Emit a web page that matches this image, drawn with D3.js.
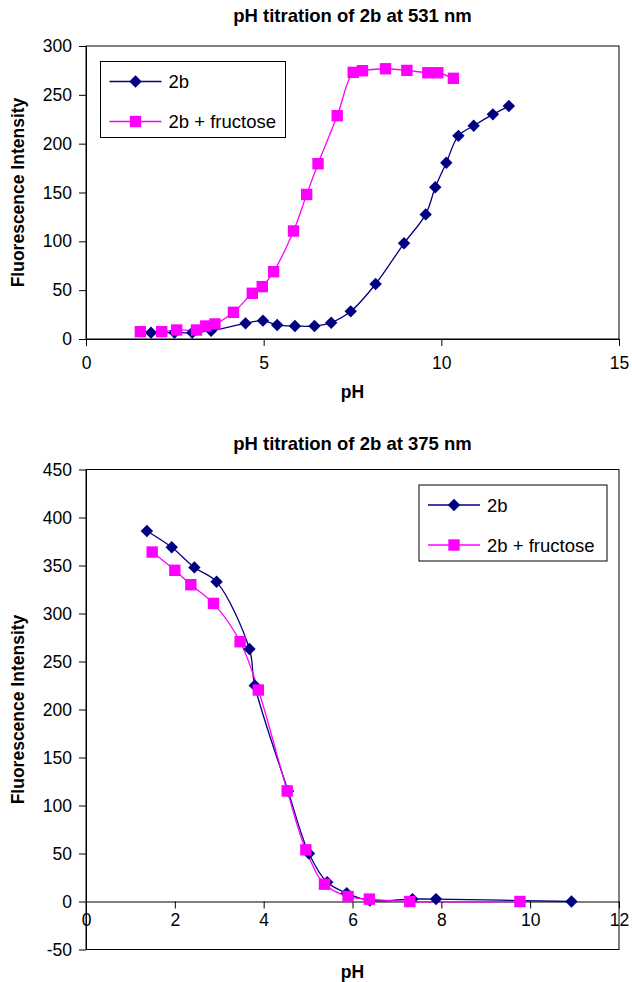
<!DOCTYPE html>
<html>
<head>
<meta charset="utf-8">
<script src="https://cdn.jsdelivr.net/npm/d3@7"></script>
<style>
  body { margin: 0; background: #fff; }
  svg { display: block; font-family: "Liberation Sans", Arial, sans-serif; }
</style>
</head>
<body>
<script>
// --- data ---
// top chart: 531 nm
const ph531Plain = [1.83, 2.49, 2.99, 3.52, 4.49, 4.98, 5.38, 5.88, 6.43, 6.9, 7.45, 8.15, 8.95, 9.56, 9.83, 10.14, 10.48, 10.91, 11.45, 11.9];
const fl531Plain = [6.5, 6.5, 6.5, 8.5, 16, 18.8, 14.3, 13.3, 13.3, 16.7, 28.3, 56.3, 98, 127.6, 155.3, 180.5, 208, 218.4, 230, 238.5];
const ph531Fruc = [1.53, 2.13, 2.55, 3.11, 3.37, 3.63, 4.15, 4.68, 4.96, 5.28, 5.84, 6.21, 6.53, 7.07, 7.52, 7.78, 8.43, 9.03, 9.62, 9.9, 10.34];
const fl531Fruc = [7.5, 7.5, 9.2, 9.2, 13.3, 15.4, 27.3, 46.8, 53.6, 68.9, 110.6, 148, 179.5, 228.6, 273, 274.7, 276.7, 275, 272.6, 272.6, 266.9];

// bottom chart: 375 nm
const ph375Plain = [1.37, 1.93, 2.44, 2.94, 3.68, 3.8, 4.55, 5.02, 5.43, 5.87, 6.39, 7.35, 7.88, 10.93];
const fl375Plain = [386, 369, 348, 333, 263, 225, 115, 50, 20, 8.7, 1, 2.5, 2.5, 0];
const ph375Fruc = [1.49, 2.0, 2.36, 2.87, 3.47, 3.88, 4.53, 4.95, 5.37, 5.9, 6.38, 7.29, 9.77];
const fl375Fruc = [364, 345, 330, 310.5, 270.6, 220.3, 115.2, 53.8, 18, 5.2, 2.5, 0, 0];

const seriesNames = ['2b', '2b + fructose'];

const xTicks531 = [0, 5, 10, 15];
const yTicks531 = [0, 50, 100, 150, 200, 250, 300];
const xTicks375 = [0, 2, 4, 6, 8, 10, 12];
const yTicks375 = [-50, 0, 50, 100, 150, 200, 250, 300, 350, 400, 450];

const navy = '#000080';
const magenta = '#ff00ff';

const svg = d3.select('body')
  .append('svg')
  .attr('width', 632)
  .attr('height', 982);

const zip = (xs, ys) => xs.map((v, i) => [v, ys[i]]);

function drawChart(opt) {
  const x = d3.scaleLinear().domain(opt.xDomain).range([opt.left, opt.right]);
  const y = d3.scaleLinear().domain(opt.yDomain).range([opt.bottom, opt.top]);

  const g = svg.append('g');

  // plot frame
  g.append('rect')
    .attr('x', opt.left)
    .attr('y', opt.top)
    .attr('width', opt.right - opt.left)
    .attr('height', opt.bottom - opt.top)
    .attr('fill', '#fff')
    .attr('stroke', '#000')
    .attr('stroke-width', 1);

  // plain hyphen for negatives, like Excel
  const fmt = d => String(d);

  const yAxis = g.append('g')
    .attr('transform', `translate(${opt.left}, 0)`)
    .call(d3.axisLeft(y).tickValues(opt.yTicks).tickFormat(fmt).tickSize(7).tickSizeOuter(0).tickPadding(7));

  const xAxis = g.append('g')
    .attr('transform', `translate(0, ${y(0)})`)
    .call(d3.axisBottom(x).tickValues(opt.xTicks).tickFormat(fmt).tickSize(7).tickSizeOuter(0).tickPadding(opt.xPad));

  [xAxis, yAxis].forEach((a) => {
    a.selectAll('text').attr('font-size', 17.5).attr('fill', '#000');
    a.selectAll('line, path').attr('stroke', '#000');
    a.attr('font-family', null);
  });

  const line = d3.line()
    .x(d => x(d[0]))
    .y(d => y(d[1]))
    .curve(d3.curveCatmullRom.alpha(0.5));

  const series = [
    { data: zip(opt.phA, opt.flA), color: navy, shape: 'diamond' },
    { data: zip(opt.phB, opt.flB), color: magenta, shape: 'square' },
  ];

  // lines first, then markers, in Excel series order
  series.forEach((s) => {
    g.append('path')
      .datum(s.data)
      .attr('fill', 'none')
      .attr('stroke', s.color)
      .attr('stroke-width', 1.3)
      .attr('d', line);
  });
  series.forEach((s) => {
    drawMarkers(g, s.data.map(d => [x(d[0]), y(d[1])]), s.shape, s.color);
  });

  // titles
  svg.append('text')
    .attr('x', (opt.left + opt.right) / 2)
    .attr('y', opt.titleY)
    .attr('text-anchor', 'middle')
    .attr('font-weight', 'bold')
    .attr('font-size', 18.5)
    .text(opt.title);

  svg.append('text')
    .attr('x', (opt.left + opt.right) / 2)
    .attr('y', opt.xLabelY)
    .attr('text-anchor', 'middle')
    .attr('font-weight', 'bold')
    .attr('font-size', 17.5)
    .text('pH');

  svg.append('text')
    .attr('transform', `translate(24, ${(opt.top + opt.bottom) / 2}) rotate(-90)`)
    .attr('text-anchor', 'middle')
    .attr('font-weight', 'bold')
    .attr('font-size', 17.5)
    .text('Fluorescence Intensity');

  // legend
  const lg = svg.append('g').attr('transform', `translate(${opt.legend[0]}, ${opt.legend[1]})`);
  lg.append('rect')
    .attr('width', opt.legend[2])
    .attr('height', 76)
    .attr('fill', '#fff')
    .attr('stroke', '#000')
    .attr('stroke-width', 1);
  series.forEach((s, i) => {
    const cy = 20 + i * 40;
    lg.append('line')
      .attr('x1', 9).attr('x2', 61)
      .attr('y1', cy).attr('y2', cy)
      .attr('stroke', s.color)
      .attr('stroke-width', 1.3);
    drawMarkers(lg, [[35, cy]], s.shape, s.color);
    lg.append('text')
      .attr('x', 68)
      .attr('y', cy + 6.5)
      .attr('font-size', 18.5)
      .text(seriesNames[i]);
  });
}

function drawMarkers(g, pts, shape, color) {
  g.selectAll(null)
    .data(pts)
    .enter().append('path')
    .attr('transform', d => `translate(${d[0]}, ${d[1]})`)
    .attr('d', shape === 'diamond' ? 'M0,-6.2L6.2,0L0,6.2L-6.2,0Z' : 'M-5.7,-5.7H5.7V5.7H-5.7Z')
    .attr('fill', color);
}

drawChart({
  title: 'pH titration of 2b at 531 nm',
  left: 86, right: 619, top: 46, bottom: 339,
  xDomain: [0, 15], yDomain: [0, 300],
  xTicks: xTicks531, yTicks: yTicks531, xPad: 11,
  phA: ph531Plain, flA: fl531Plain, phB: ph531Fruc, flB: fl531Fruc,
  titleY: 22, xLabelY: 398,
  legend: [100.5, 61.5, 185],
});

drawChart({
  title: 'pH titration of 2b at 375 nm',
  left: 86, right: 619, top: 469.5, bottom: 949.5,
  xDomain: [0, 12], yDomain: [-50, 450],
  xTicks: xTicks375, yTicks: yTicks375, xPad: 5,
  phA: ph375Plain, flA: fl375Plain, phB: ph375Fruc, flB: fl375Fruc,
  titleY: 450, xLabelY: 978,
  legend: [419, 485, 188],
});
</script>
</body>
</html>
